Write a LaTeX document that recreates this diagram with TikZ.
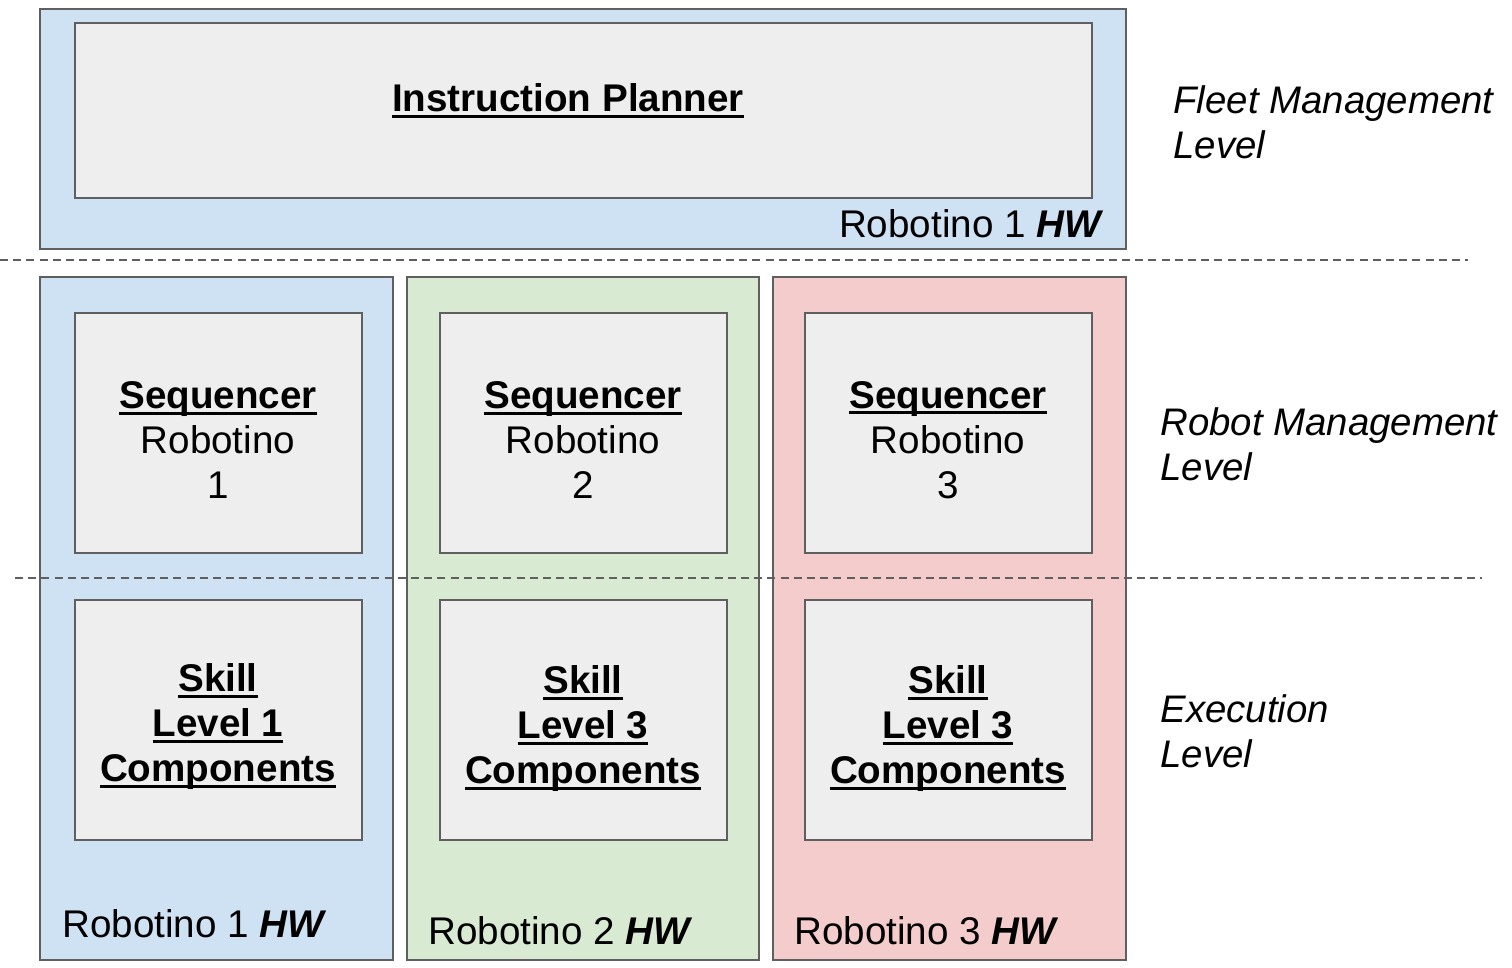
\documentclass[tikz,border=0pt]{standalone}
\usepackage{fontspec}
\setmainfont{Liberation Sans}
\usepackage{tikz}
\usetikzlibrary{positioning}

\definecolor{hwblue}{HTML}{CFE2F3}
\definecolor{hwgreen}{HTML}{D9EAD3}
\definecolor{hwred}{HTML}{F4CCCC}
\definecolor{modgray}{HTML}{EEEEEE}
\definecolor{framegray}{HTML}{5F5F5F}

% bold underlined heading
\newcommand{\ulbf}[1]{{\bfseries\leavevmode\setbox0\hbox{#1}\rlap{\vrule height -1.6pt depth 3.1pt width \wd0}\box0}}

\begin{document}
\begin{tikzpicture}[x=0.5pt,y=-0.5pt,
        hw/.style={draw=framegray, line width=1pt, fill=#1},
        module/.style={draw=framegray, line width=1pt, fill=modgray},
        levelsep/.style={draw=framegray, line width=0.9pt, dash pattern=on 4pt off 2.6pt},
        boxtext/.style={align=center, inner sep=0pt, font=\fontsize{19.3}{22.5}\selectfont},
        hwtext/.style={inner sep=0pt, font=\fontsize{19.3}{22.5}\selectfont},
        leveltext/.style={align=left, inner sep=0pt, font=\fontsize{19.2}{22.5}\selectfont\itshape},
    ]
    \useasboundingbox (0,0) rectangle (1512,968);
    % Fleet management level
    \draw[hw=hwblue] (40,9) rectangle (1126,249);
    \draw[module] (75,23) rectangle (1092,198);
    \node[boxtext] (planner) at (568,101) {\ulbf{Instruction Planner}};
    \node[hwtext, anchor=east] (hwtop) at (1104,224) {Robotino 1 \textbf{\itshape HW}};
    \node[leveltext, anchor=west] (fleet) at (1173,122) {Fleet Management\\Level};
    % separator
    \coordinate (sepA) at (0,260);
    \coordinate (sepB) at (1468,260);
    \draw[levelsep] (sepA) -- (sepB);
    % Robotino 1
    \draw[hw=hwblue] (40,277) rectangle (393,960);
    \draw[module] (75,313) rectangle (362,553);
    \draw[module] (75,600) rectangle (362,840);
    \node[boxtext] (seq1) at (218,440) {\ulbf{Sequencer}\\Robotino\\1};
    \node[boxtext] (skill1) at (218,727) {\ulbf{Skill}\\\ulbf{Level 1}\\\ulbf{Components}};
    \node[hwtext, anchor=west] (hw1) at (62,924) {Robotino 1 \textbf{\itshape HW}};
    % Robotino 2
    \draw[hw=hwgreen] (407,277) rectangle (759,960);
    \draw[module] (440,313) rectangle (727,553);
    \draw[module] (440,600) rectangle (727,840);
    \node[boxtext] (seq2) at (583,440) {\ulbf{Sequencer}\\Robotino\\2};
    \node[boxtext] (skill2) at (583,729) {\ulbf{Skill}\\\ulbf{Level 3}\\\ulbf{Components}};
    \node[hwtext, anchor=west] (hw2) at (428,931) {Robotino 2 \textbf{\itshape HW}};
    % Robotino 3
    \draw[hw=hwred] (773,277) rectangle (1126,960);
    \draw[module] (805,313) rectangle (1092,553);
    \draw[module] (805,600) rectangle (1092,840);
    \node[boxtext] (seq3) at (948,440) {\ulbf{Sequencer}\\Robotino\\3};
    \node[boxtext] (skill3) at (948,729) {\ulbf{Skill}\\\ulbf{Level 3}\\\ulbf{Components}};
    \node[hwtext, anchor=west] (hw3) at (794,931) {Robotino 3 \textbf{\itshape HW}};
    % separator
    \coordinate (sepC) at (15,578);
    \coordinate (sepD) at (1482,578);
    \draw[levelsep] (sepC) -- (sepD);
    % level names
    \node[leveltext, anchor=west] (robot) at (1160,444) {Robot Management\\Level};
    \node[leveltext, anchor=west] (exec) at (1160,731) {Execution\\Level};
\end{tikzpicture}
\end{document}
